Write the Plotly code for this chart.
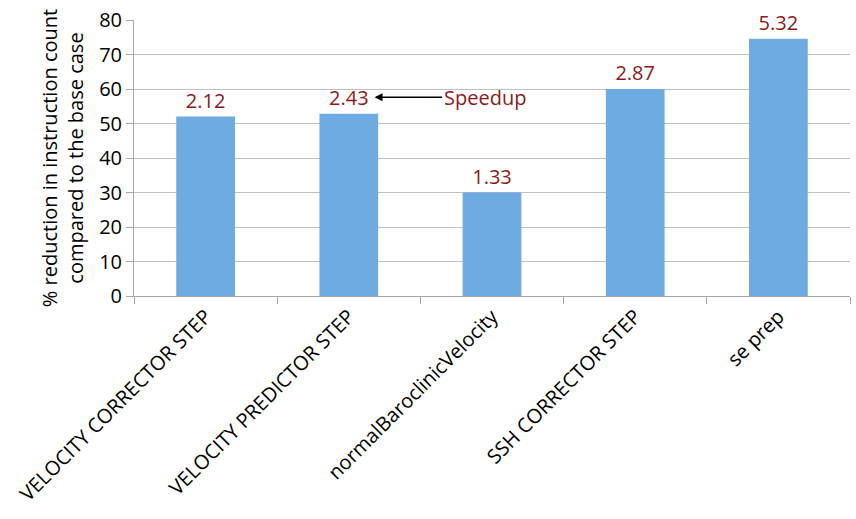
import plotly.graph_objects as go

categories = ["VELOCITY CORRECTOR STEP", "VELOCITY PREDICTOR STEP",
              "normalBaroclinicVelocity", "SSH CORRECTOR STEP", "se prep"]
reduction = [52, 52.8, 30, 60, 74.6]
speedup = ["2.12", "2.43", "1.33", "2.87", "5.32"]
y_ticks = [0, 10, 20, 30, 40, 50, 60, 70, 80]

FONT = "Open Sans"
RED = "#8B1A1A"

fig = go.Figure()
fig.add_trace(go.Bar(
    x=categories, y=reduction, text=speedup, textposition="outside",
    textfont=dict(family=FONT, size=20, color=RED),
    marker=dict(color="#6DABE0", line=dict(width=0)),
    cliponaxis=False, width=0.41,
))

fig.add_annotation(
    x=1.18, y=57.6, xref="x", yref="y",
    text="Speedup", showarrow=True, ax=110, ay=0,
    arrowhead=2, arrowsize=1, arrowwidth=1.6, arrowcolor="black",
    font=dict(family=FONT, size=20, color=RED),
)

fig.update_layout(
    width=856, height=519,
    margin=dict(l=134, r=6, t=18, b=223),
    paper_bgcolor="white", plot_bgcolor="white",
    showlegend=False,
    font=dict(family=FONT, color="black"),
    xaxis=dict(
        tickangle=-45, tickfont=dict(family=FONT, size=20, color="black"),
        showline=True, linecolor="#A6A6A6", linewidth=1,
        ticks="outside", ticklen=7, tickcolor="#A6A6A6", tickson="boundaries",
        showgrid=False,
    ),
    yaxis=dict(
        range=[0, 80], tickvals=y_ticks,
        tickfont=dict(family=FONT, size=20, color="black"),
        showgrid=True, gridcolor="#C0C0C0", gridwidth=1,
        showline=True, linecolor="#A6A6A6", linewidth=1,
        ticks="outside", ticklen=7, tickcolor="#A6A6A6",
        zeroline=False,
        title=dict(text="% reduction in instruction count<br>compared to the base case",
                   font=dict(family=FONT, size=20, color="black"), standoff=10),
    ),
)

fig.write_html("out.html")
